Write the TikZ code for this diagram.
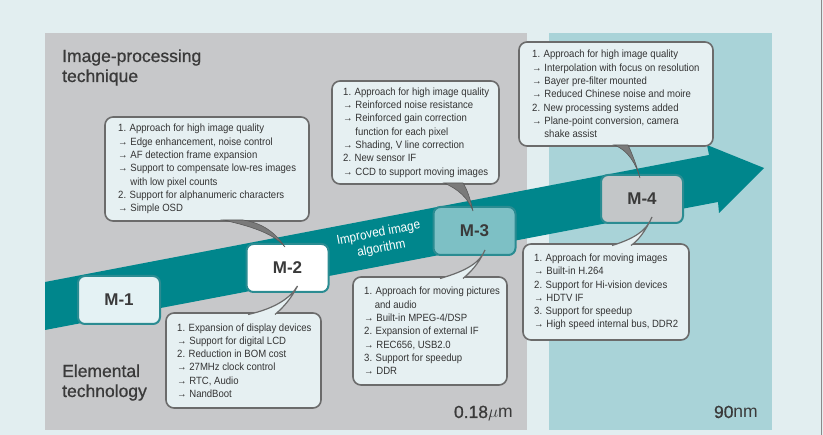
\documentclass[tikz,border=0pt]{standalone}
\usepackage{fontspec}
\setmainfont{Liberation Sans}
\newfontfamily\narrowsf[FakeStretch=0.91]{Liberation Sans}
\newfontfamily\heavysf[FakeBold=0.8]{Liberation Sans}
\usetikzlibrary{calc}
\definecolor{bgc}{HTML}{E2EEF0}
\definecolor{grayp}{HTML}{C7C8CA}
\definecolor{bluep}{HTML}{A9D3D8}
\definecolor{arrowc}{HTML}{00868C}
\definecolor{cfill}{HTML}{E6F0F2}
\definecolor{cbord}{HTML}{6B6B6B}
\definecolor{mbord}{HTML}{2B8C92}
\definecolor{mfa}{HTML}{E4F2F4}
\definecolor{mfb}{HTML}{FFFFFF}
\definecolor{mfc}{HTML}{7DC0C5}
\definecolor{mfd}{HTML}{C3C6C8}
\definecolor{titlec}{HTML}{3A3A3A}
\definecolor{ctxt}{HTML}{333333}
\definecolor{tdark}{HTML}{7A7A7A}
\definecolor{tdarkedge}{HTML}{5A5A5A}
\definecolor{framec}{HTML}{8A8A8A}
\newcommand\arw{→~}
\newcommand\ind{\hphantom{→~}}
\begin{document}
\begin{tikzpicture}[x=1pt,y=-1pt,
  callbox/.style={draw=cbord, line width=1.6pt, fill=cfill, rounded corners=8pt, inner sep=0pt, outer sep=0pt},
  ctext/.style={font=\narrowsf\fontsize{10.5}{13.3}\selectfont, text=ctxt, align=left, inner sep=0pt, anchor=west},
  mbox/.style={draw=mbord, line width=2pt, rounded corners=7pt, minimum width=82pt, minimum height=48pt, inner sep=0pt, outer sep=0pt, font=\bfseries\fontsize{17}{17}\selectfont, text=titlec},
  toptail/.style={fill=tdark, draw=tdarkedge, line width=0.6pt},
  botfill/.style={fill=cfill},
  botedge/.style={draw=cbord, line width=1.2pt},
  titletext/.style={font=\heavysf\fontsize{17.5}{20}\selectfont, text=titlec, align=left, inner sep=0pt},
  unittext/.style={font=\heavysf\fontsize{17.5}{18}\selectfont, text=titlec, inner sep=0pt, anchor=base east}
]
\useasboundingbox (0,0) rectangle (823,435);
% backgrounds
\fill[bgc] (0,0) rectangle (823,435);
\fill[grayp] (45,33) rectangle (527,430);
\fill[bluep] (549,33) rectangle (772,430);
\draw[framec, line width=1pt] (821.5,0) -- (821.5,435);
% big arrow
\fill[arrowc] (45,282) -- (709,155) -- (707,145) -- (764,168) -- (719,213) -- (718,202) -- (45,330) -- cycle;
\node[rotate=10.8, font=\narrowsf\fontsize{13}{15.5}\selectfont, text=white, align=center, inner sep=0pt] (imp) at (380,241) {Improved image\\algorithm};
% titles
\node[titletext, anchor=base west] (tt1) at (62,82) {Image-processing\\technique};
\node[titletext, anchor=base west] (tt2) at (62,397) {Elemental\\technology};
\node[unittext] (u1) at (513,418) {0.18$\mu\mathrm{m}$};
\node[unittext] (u2) at (758,418) {90$\mathrm{nm}$};
% M boxes
\node[mbox, fill=mfa] (m1) at (119,300) {M-1};
\node[mbox, fill=mfb] (m2) at (287.5,268) {M-2};
\node[mbox, fill=mfc] (m3) at (474.5,231) {M-3};
\node[mbox, fill=mfd] (m4) at (642,199) {M-4};
% callouts
\node[callbox, minimum width=204pt, minimum height=104pt, anchor=north west] (cA) at (105,117) {};
\node[callbox, minimum width=167pt, minimum height=103pt, anchor=north west] (cB) at (332,81) {};
\node[callbox, minimum width=194pt, minimum height=104pt, anchor=north west] (cC) at (519,42) {};
\node[callbox, minimum width=155pt, minimum height=95pt, anchor=north west] (cD) at (166,313) {};
\node[callbox, minimum width=154pt, minimum height=108pt, anchor=north west] (cE) at (353,277) {};
\node[callbox, minimum width=166pt, minimum height=96pt, anchor=north west] (cF) at (523,244) {};
% callout texts
\node[ctext] (tA) at ($(cA.west)+(13,0)$) {1. Approach for high image quality\\
\arw Edge enhancement, noise control\\
\arw AF detection frame expansion\\
\arw Support to compensate low-res images\\
\ind with low pixel counts\\
2. Support for alphanumeric characters\\
\arw Simple OSD};
\node[ctext] (tB) at ($(cB.west)+(11,0)$) {1. Approach for high image quality\\
\arw Reinforced noise resistance\\
\arw Reinforced gain correction\\
\ind function for each pixel\\
\arw Shading, V line correction\\
2. New sensor IF\\
\arw CCD to support moving images};
\node[ctext] (tC) at ($(cC.west)+(13,0)$) {1. Approach for high image quality\\
\arw Interpolation with focus on resolution\\
\arw Bayer pre-filter mounted\\
\arw Reduced Chinese noise and moire\\
2. New processing systems added\\
\arw Plane-point conversion, camera\\
\ind shake assist};
\node[ctext] (tD) at ($(cD.west)+(11,0)$) {1. Expansion of display devices\\
\arw Support for digital LCD\\
2. Reduction in BOM cost\\
\arw 27MHz clock control\\
\arw RTC, Audio\\
\arw NandBoot};
\node[ctext] (tE) at ($(cE.west)+(11,0)$) {1. Approach for moving pictures\\
\hphantom{1.~}and audio\\
\arw Built-in MPEG-4/DSP\\
2. Expansion of external IF\\
\arw REC656, USB2.0\\
3. Support for speedup\\
\arw DDR};
\node[ctext] (tF) at ($(cF.west)+(11,0)$) {1. Approach for moving images\\
\arw Built-in H.264\\
2. Support for Hi-vision devices\\
\arw HDTV IF\\
3. Support for speedup\\
\arw High speed internal bus, DDR2};
% tails: top callouts
\coordinate (aL) at ($(cA.south west)+(118,-1)$);
\coordinate (aR) at ($(cA.south west)+(138,-1)$);
\coordinate (aT) at ($(m2.north west)+(38.5,3)$);
\filldraw[toptail] (aL) .. controls +(32,7) and +(-10,-12) .. (aT) .. controls +(-10,-15) and +(19,3) .. (aR) -- cycle;
\coordinate (bL) at ($(cB.south west)+(112,-1)$);
\coordinate (bR) at ($(cB.south west)+(131,-1)$);
\coordinate (bT) at ($(m3.north west)+(39.5,4)$);
\filldraw[toptail] (bL) .. controls +(14,6) and +(-5,-13) .. (bT) .. controls +(-3,-13) and +(4,6) .. (bR) -- cycle;
\coordinate (cL) at ($(cC.south west)+(95,-1)$);
\coordinate (cR) at ($(cC.south west)+(109,-1)$);
\coordinate (cT) at ($(m4.north west)+(39,3)$);
\filldraw[toptail] (cL) .. controls +(14,5) and +(-4,-14) .. (cT) .. controls +(-3,-12) and +(3,6) .. (cR) -- cycle;
% tails: bottom callouts
\coordinate (dL) at ($(cD.north west)+(82,1.5)$);
\coordinate (dR) at ($(cD.north west)+(109,1.5)$);
\coordinate (dT) at ($(m2.south west)+(51,-6)$);
\fill[botfill] (dL) .. controls +(27,-6) and +(-7,12) .. (dT) .. controls +(-7,14) and +(7,-6) .. (dR) -- cycle;
\draw[botedge] (dL) .. controls +(27,-6) and +(-7,12) .. (dT) .. controls +(-7,14) and +(7,-6) .. (dR);
\coordinate (eL) at ($(cE.north west)+(87,1.5)$);
\coordinate (eR) at ($(cE.north west)+(110,1.5)$);
\coordinate (eT) at ($(m3.south west)+(51.5,-5)$);
\fill[botfill] (eL) .. controls +(28,-8) and +(-5,12) .. (eT) .. controls +(-7,15) and +(7,-6) .. (eR) -- cycle;
\draw[botedge] (eL) .. controls +(28,-8) and +(-5,12) .. (eT) .. controls +(-7,15) and +(7,-6) .. (eR);
\coordinate (fL) at ($(cF.north west)+(89,1.5)$);
\coordinate (fR) at ($(cF.north west)+(108,1.5)$);
\coordinate (fT) at ($(m4.south west)+(51,-6)$);
\fill[botfill] (fL) .. controls +(23,-7) and +(-5,13) .. (fT) .. controls +(-7,15) and +(7,-5) .. (fR) -- cycle;
\draw[botedge] (fL) .. controls +(23,-7) and +(-5,13) .. (fT) .. controls +(-7,15) and +(7,-5) .. (fR);
\end{tikzpicture}
\end{document}
